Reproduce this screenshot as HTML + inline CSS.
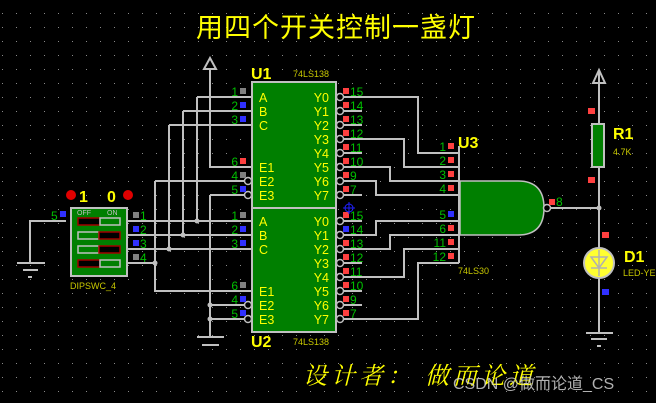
<!DOCTYPE html>
<html><head><meta charset="utf-8"><style>
html,body{margin:0;padding:0;background:#000;}
svg{display:block}
</style></head><body>
<svg width="656" height="403" viewBox="0 0 656 403" xmlns="http://www.w3.org/2000/svg" font-family="Liberation Sans, sans-serif">
<defs>
<pattern id="g" x="2" y="13" width="14" height="14" patternUnits="userSpaceOnUse"><rect x="0" y="0" width="1" height="1" fill="#8a8a8a"/></pattern>
</defs>
<rect width="656" height="403" fill="#000"/>
<rect width="656" height="403" fill="url(#g)"/>

<text x="336" y="37" text-anchor="middle" font-family="Liberation Sans, Noto Sans CJK SC, sans-serif" font-size="27" fill="#ffff00" letter-spacing="1">用四个开关控制一盏灯</text>

<g stroke="#c0c0c0" stroke-width="2" fill="none">
<path d="M210,58 L204,69 L216,69 Z" />
<path d="M210,69 V167 H252"/>
<path d="M197,97 H252 M183,111 H252 M169,125 H252 M155,181 H252 M210,195 H252"/>
<path d="M197,97 V221 M183,111 V235 M169,125 V249 M155,181 V291 H252 M210,195 V337"/>
<path d="M127,221 H252 M127,235 H252 M127,249 H252 M127,263 H155 M210,305 H252 M210,319 H252"/>
<path d="M197,337 H224 M202,345 H219"/>
<path d="M66,221 H30 V263 M17,263 H45 M23,270 H38 M28,277 H32"/>
<path d="M344,97 H362 M344,111 H362 M344,125 H362 M344,139 H362 M344,153 H362 M344,167 H362 M344,181 H362 M344,195 H362"/>
<path d="M344,221 H362 M344,235 H362 M344,249 H362 M344,263 H362 M344,277 H362 M344,291 H362 M344,305 H362 M344,319 H362"/>
<path d="M344,97 H418 V153 H459 M344,139 H404 V167 H459 M344,167 H390 V181 H459 M344,181 H376 V195 H459"/>
<path d="M344,235 H376 V221 H459 M344,249 H390 V235 H459 M344,277 H404 V249 H459 M344,319 H418 V263 H459"/>
<path d="M459,146 V263"/>
<path d="M551,208 H599 M599,70 V333 M586,333 H613 M591,339 H607 M597,346 H601"/>
<path d="M599,70 L593,83 L605,83 Z"/>
</g>
<g fill="#c0c0c0">
<circle cx="197" cy="221" r="2.5"/><circle cx="183" cy="235" r="2.5"/><circle cx="169" cy="249" r="2.5"/><circle cx="155" cy="263" r="2.5"/>
<circle cx="210" cy="305" r="2.5"/><circle cx="210" cy="319" r="2.5"/><circle cx="599" cy="208" r="2.5"/>
</g>

<rect x="252" y="82" width="84" height="126" fill="#007f00" stroke="#c0c0c0" stroke-width="2"/>
<rect x="252" y="208" width="84" height="124" fill="#007f00" stroke="#c0c0c0" stroke-width="2"/>
<g stroke="#c0c0c0" stroke-width="1.5" fill="#000">
<circle cx="248" cy="181" r="3.5"/><circle cx="248" cy="195" r="3.5"/><circle cx="248" cy="305" r="3.5"/><circle cx="248" cy="319" r="3.5"/>
<circle cx="340" cy="97" r="3.5"/><circle cx="340" cy="111" r="3.5"/><circle cx="340" cy="125" r="3.5"/><circle cx="340" cy="139" r="3.5"/><circle cx="340" cy="153" r="3.5"/><circle cx="340" cy="167" r="3.5"/><circle cx="340" cy="181" r="3.5"/><circle cx="340" cy="195" r="3.5"/>
<circle cx="340" cy="221" r="3.5"/><circle cx="340" cy="235" r="3.5"/><circle cx="340" cy="249" r="3.5"/><circle cx="340" cy="263" r="3.5"/><circle cx="340" cy="277" r="3.5"/><circle cx="340" cy="291" r="3.5"/><circle cx="340" cy="305" r="3.5"/><circle cx="340" cy="319" r="3.5"/>
</g>
<g fill="#ffff00" font-size="12.5">
<text x="259" y="102">A</text><text x="259" y="116">B</text><text x="259" y="130">C</text><text x="259" y="172">E1</text><text x="259" y="186">E2</text><text x="259" y="200">E3</text>
<text x="259" y="226">A</text><text x="259" y="240">B</text><text x="259" y="254">C</text><text x="259" y="296">E1</text><text x="259" y="310">E2</text><text x="259" y="324">E3</text>
</g>
<g fill="#ffff00" font-size="12.5" text-anchor="end">
<text x="329" y="102">Y0</text><text x="329" y="116">Y1</text><text x="329" y="130">Y2</text><text x="329" y="144">Y3</text><text x="329" y="158">Y4</text><text x="329" y="172">Y5</text><text x="329" y="186">Y6</text><text x="329" y="200">Y7</text>
<text x="329" y="226">Y0</text><text x="329" y="240">Y1</text><text x="329" y="254">Y2</text><text x="329" y="268">Y3</text><text x="329" y="282">Y4</text><text x="329" y="296">Y5</text><text x="329" y="310">Y6</text><text x="329" y="324">Y7</text>
</g>
<g fill="#00c000" font-size="12" text-anchor="end">
<text x="238" y="96">1</text><text x="238" y="110">2</text><text x="238" y="124">3</text><text x="238" y="166">6</text><text x="238" y="180">4</text><text x="238" y="194">5</text>
<text x="238" y="220">1</text><text x="238" y="234">2</text><text x="238" y="248">3</text><text x="238" y="290">6</text><text x="238" y="304">4</text><text x="238" y="318">5</text>
</g>
<g>
<rect x="240" y="88" width="6" height="6" fill="#808080"/><rect x="240" y="102" width="6" height="6" fill="#3030ff"/><rect x="240" y="116" width="6" height="6" fill="#3030ff"/><rect x="240" y="158" width="6" height="6" fill="#ff4040"/><rect x="240" y="172" width="6" height="6" fill="#808080"/><rect x="240" y="186" width="6" height="6" fill="#3030ff"/>
<rect x="240" y="212" width="6" height="6" fill="#808080"/><rect x="240" y="226" width="6" height="6" fill="#3030ff"/><rect x="240" y="240" width="6" height="6" fill="#3030ff"/><rect x="240" y="282" width="6" height="6" fill="#808080"/><rect x="240" y="296" width="6" height="6" fill="#3030ff"/><rect x="240" y="310" width="6" height="6" fill="#3030ff"/>
</g>
<g fill="#ff4040">
<rect x="343" y="88" width="6" height="6"/><rect x="343" y="102" width="6" height="6"/><rect x="343" y="116" width="6" height="6"/><rect x="343" y="130" width="6" height="6"/><rect x="343" y="144" width="6" height="6"/><rect x="343" y="158" width="6" height="6"/><rect x="343" y="172" width="6" height="6"/><rect x="343" y="186" width="6" height="6"/>
<rect x="343" y="212" width="6" height="6"/><rect x="343" y="226" width="6" height="6" fill="#3030ff"/><rect x="343" y="240" width="6" height="6"/><rect x="343" y="254" width="6" height="6"/><rect x="343" y="268" width="6" height="6"/><rect x="343" y="282" width="6" height="6"/><rect x="343" y="296" width="6" height="6"/><rect x="343" y="310" width="6" height="6"/>
</g>
<g fill="#00c000" font-size="12">
<text x="350" y="96">15</text><text x="350" y="110">14</text><text x="350" y="124">13</text><text x="350" y="138">12</text><text x="350" y="152">11</text><text x="350" y="166">10</text><text x="350" y="180">9</text><text x="350" y="194">7</text>
<text x="350" y="220">15</text><text x="350" y="234">14</text><text x="350" y="248">13</text><text x="350" y="262">12</text><text x="350" y="276">11</text><text x="350" y="290">10</text><text x="350" y="304">9</text><text x="350" y="318">7</text>
</g>
<g stroke="#2020ff" stroke-width="1" fill="none"><circle cx="349" cy="208" r="4"/><path d="M343,208 H355 M349,202 V214"/></g>

<text x="251" y="79" fill="#ffff00" font-size="16" font-weight="bold">U1</text>
<text x="293" y="77" fill="#c8c800" font-size="9">74LS138</text>
<text x="251" y="347" fill="#ffff00" font-size="16" font-weight="bold">U2</text>
<text x="293" y="345" fill="#c8c800" font-size="9">74LS138</text>

<path d="M460,181 L518,181 Q544,181 544,208 Q544,235 518,235 L460,235 Z" fill="#007f00" stroke="#c0c0c0" stroke-width="1.5"/>
<circle cx="547" cy="208" r="3.5" fill="#000" stroke="#c0c0c0" stroke-width="1.5"/>
<g fill="#ff4040">
<rect x="448" y="143" width="6" height="6"/><rect x="448" y="157" width="6" height="6"/><rect x="448" y="171" width="6" height="6"/><rect x="448" y="185" width="6" height="6"/>
<rect x="448" y="211" width="6" height="6" fill="#3030ff"/><rect x="448" y="225" width="6" height="6"/><rect x="448" y="239" width="6" height="6"/><rect x="448" y="253" width="6" height="6"/>
<rect x="549" y="199" width="6" height="6"/>
</g>
<g fill="#00c000" font-size="12" text-anchor="end">
<text x="446" y="151">1</text><text x="446" y="165">2</text><text x="446" y="179">3</text><text x="446" y="193">4</text><text x="446" y="219">5</text><text x="446" y="233">6</text><text x="446" y="247">11</text><text x="446" y="261">12</text>
</g>
<text x="556" y="206" fill="#00c000" font-size="12">8</text>
<text x="458" y="148" fill="#ffff00" font-size="16" font-weight="bold">U3</text>
<text x="458" y="274" fill="#c8c800" font-size="9">74LS30</text>

<rect x="592" y="124" width="12" height="43" fill="#007f00" stroke="#c0c0c0" stroke-width="2"/>
<rect x="588" y="108" width="7" height="6" fill="#ff4040"/><rect x="588" y="177" width="7" height="6" fill="#ff4040"/>
<text x="613" y="139" fill="#ffff00" font-size="16" font-weight="bold">R1</text>
<text x="613" y="155" fill="#c8c800" font-size="9">4.7K</text>
<circle cx="599" cy="263" r="15" fill="#ffff30" stroke="#c0c0c0" stroke-width="2"/>
<g stroke="#b0b0b0" stroke-width="1.5" fill="none"><path d="M591,257 H607 L599,268 Z M591,268 H607 M599,250 V276"/></g>
<rect x="602" y="232" width="7" height="6" fill="#ff4040"/><rect x="602" y="289" width="7" height="6" fill="#3030ff"/>
<text x="624" y="262" fill="#ffff00" font-size="16" font-weight="bold">D1</text>
<text x="623" y="276" fill="#c8c800" font-size="9">LED-YE</text>

<rect x="71" y="208" width="56" height="68" fill="#007f00" stroke="#c0c0c0" stroke-width="2"/>
<text x="77" y="215" fill="#c0c0c0" font-size="7">OFF</text><text x="107" y="215" fill="#c0c0c0" font-size="7">ON</text>
<g stroke-width="1.5">
<rect x="78" y="218" width="22" height="7" fill="#000" stroke="#a00000"/><rect x="100" y="218" width="20" height="7" fill="#007f00" stroke="#c0c0c0"/>
<rect x="78" y="232" width="21" height="7" fill="#007f00" stroke="#c0c0c0"/><rect x="99" y="232" width="21" height="7" fill="#000" stroke="#a00000"/>
<rect x="78" y="246" width="21" height="7" fill="#007f00" stroke="#c0c0c0"/><rect x="99" y="246" width="21" height="7" fill="#000" stroke="#a00000"/>
<rect x="78" y="260" width="22" height="7" fill="#000" stroke="#a00000"/><rect x="100" y="260" width="20" height="7" fill="#007f00" stroke="#c0c0c0"/>
</g>
<rect x="133" y="212" width="6" height="6" fill="#808080"/><rect x="133" y="226" width="6" height="6" fill="#3030ff"/><rect x="133" y="240" width="6" height="6" fill="#3030ff"/><rect x="133" y="254" width="6" height="6" fill="#808080"/>
<rect x="60" y="211" width="6" height="6" fill="#3030ff"/>
<g fill="#00c000" font-size="12"><text x="140" y="220">1</text><text x="140" y="234">2</text><text x="140" y="248">3</text><text x="140" y="262">4</text><text x="51" y="220">5</text></g>
<circle cx="71" cy="195" r="5" fill="#e00000"/><circle cx="128" cy="195" r="5" fill="#e00000"/>
<text x="79" y="202" fill="#ffff00" font-size="16" font-weight="bold">1</text>
<text x="107" y="202" fill="#ffff00" font-size="16" font-weight="bold">0</text>
<text x="70" y="289" fill="#c8c800" font-size="9">DIPSWC_4</text>

<text x="303" y="384" font-family="Liberation Serif, Noto Serif CJK SC, serif" font-style="italic" font-size="24" fill="#ffff00" letter-spacing="4">设计者： 做而论道</text>
<text x="453" y="389" font-family="Liberation Sans, Noto Sans CJK SC, sans-serif" font-size="16" fill="#d0d0d0" fill-opacity="0.85">CSDN @做而论道_CS</text>
</svg>
</body></html>
